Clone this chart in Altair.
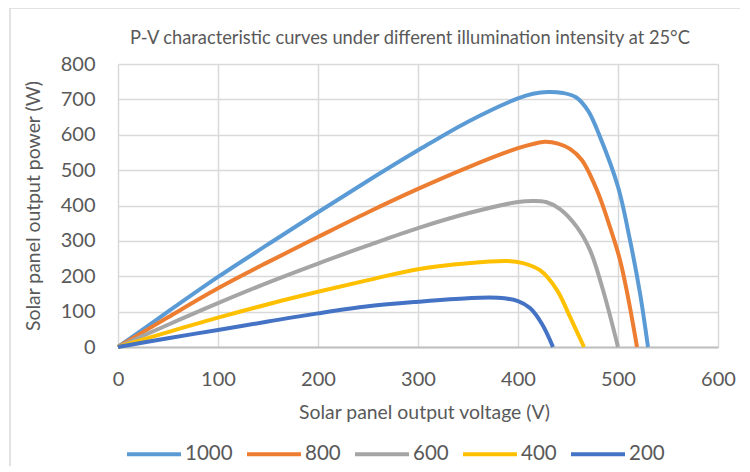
import altair as alt
import pandas as pd

# Series data (voltage V, power W)
series_names = ["1000", "800", "600", "400", "200"]
colors = ["#5B9BD5", "#ED7D31", "#A5A5A5", "#FFC000", "#4472C4"]

v_1000 = [0, 50, 100, 150, 200, 250, 300, 350, 400, 415, 430, 445, 458, 470, 482, 500, 512, 522, 530]
p_1000 = [0, 100, 198, 290, 381, 470, 556, 637, 703, 716, 721, 718, 706, 668, 594, 453, 302, 152, 0]

v_800 = [0, 50, 100, 150, 200, 250, 300, 350, 400, 415, 427, 440, 452, 464, 479, 492, 502, 510, 519]
p_800 = [0, 84, 166, 240, 311, 381, 447, 508, 562, 574, 580, 575, 560, 528, 443, 339, 246, 141, 0]

v_600 = [0, 50, 100, 150, 200, 250, 300, 350, 400, 415, 428, 442, 459, 472, 485, 500]
p_600 = [0, 63, 124, 182, 236, 287, 336, 378, 410, 413, 410, 390, 339, 274, 161, 0]

v_400 = [0, 50, 100, 150, 200, 250, 300, 350, 390, 405, 422, 439, 452, 466]
p_400 = [0, 42, 83, 121, 156, 189, 220, 237, 243, 237, 217, 161, 85, 0]

v_200 = [0, 50, 100, 150, 200, 250, 300, 350, 380, 400, 412, 424, 435]
p_200 = [0, 25, 48, 72, 95, 115, 128, 138, 139, 130, 110, 65, 0]

x_ticks = [0, 100, 200, 300, 400, 500, 600]
y_ticks = [0, 100, 200, 300, 400, 500, 600, 700, 800]

chart_title = "P-V characteristic curves under different illumination intensity at 25°C"

rows = []
for name, vs, ps in zip(series_names, [v_1000, v_800, v_600, v_400, v_200],
                        [p_1000, p_800, p_600, p_400, p_200]):
    for i, (v, p) in enumerate(zip(vs, ps)):
        rows.append({"series": name, "V": v, "P": p, "order": i})
df = pd.DataFrame(rows)

FONT = "Lato"
TXT = "#595959"

one = alt.Data(values=[{}])

border = alt.Chart(one).mark_rect(
    fillOpacity=0, stroke="#d9d9d9", strokeWidth=1.5
).encode(
    x=alt.value(-108), x2=alt.value(800), y=alt.value(-56), y2=alt.value(600)
)

title_mark = alt.Chart(one).mark_text(
    text=chart_title, font=FONT, fontSize=18.3, color=TXT, align="center", baseline="middle"
).encode(x=alt.value(292), y=alt.value(-25))

lines = alt.Chart(df).mark_line(strokeWidth=4, interpolate="catmull-rom").encode(
    x=alt.X("V:Q", scale=alt.Scale(domain=[0, 600]),
            axis=alt.Axis(values=x_ticks, title="Solar panel output voltage (V)",
                          titleX=306, titleY=65, titleBaseline="middle",
                          labelPadding=22, tickSize=0, labelFlush=False,
                          domainColor="#bfbfbf",
                          domainWidth=2, gridColor="#d9d9d9", gridWidth=1.5,
                          labelFontSize=20, titleFontSize=19.4)),
    y=alt.Y("P:Q", scale=alt.Scale(domain=[0, 800]),
            axis=alt.Axis(values=y_ticks, title="Solar panel output power (W)",
                          titleX=-85, titleY=141.5, titleBaseline="middle",
                          titleAlign="center", titleAngle=-90,
                          labelPadding=23, tickSize=0, domain=False, labelFlush=False,
                          gridColor="#d9d9d9", gridWidth=1.5,
                          labelFontSize=20, titleFontSize=19.4)),
    color=alt.Color("series:N", scale=alt.Scale(domain=series_names, range=colors),
                    legend=alt.Legend(title=None, orient="none", direction="horizontal",
                                      legendX=7, legendY=361, symbolType="stroke",
                                      symbolSize=2916, symbolStrokeWidth=4,
                                      labelFontSize=20.5, labelOffset=2,
                                      columnPadding=6, labelColor=TXT, labelFont=FONT)),
    order="order:Q",
    detail="series:N",
)

chart = alt.layer(border, lines, title_mark).properties(
    width=600, height=283,
    autosize=alt.AutoSizeParams(type="none"),
    padding={"left": 110, "top": 56, "right": 22, "bottom": 119},
).configure_view(stroke=None).configure_axis(
    labelFont=FONT, titleFont=FONT, labelColor=TXT, titleColor=TXT,
    titleFontWeight="normal"
)

chart.save("out.html", embed_options={"renderer": "svg", "actions": False})
